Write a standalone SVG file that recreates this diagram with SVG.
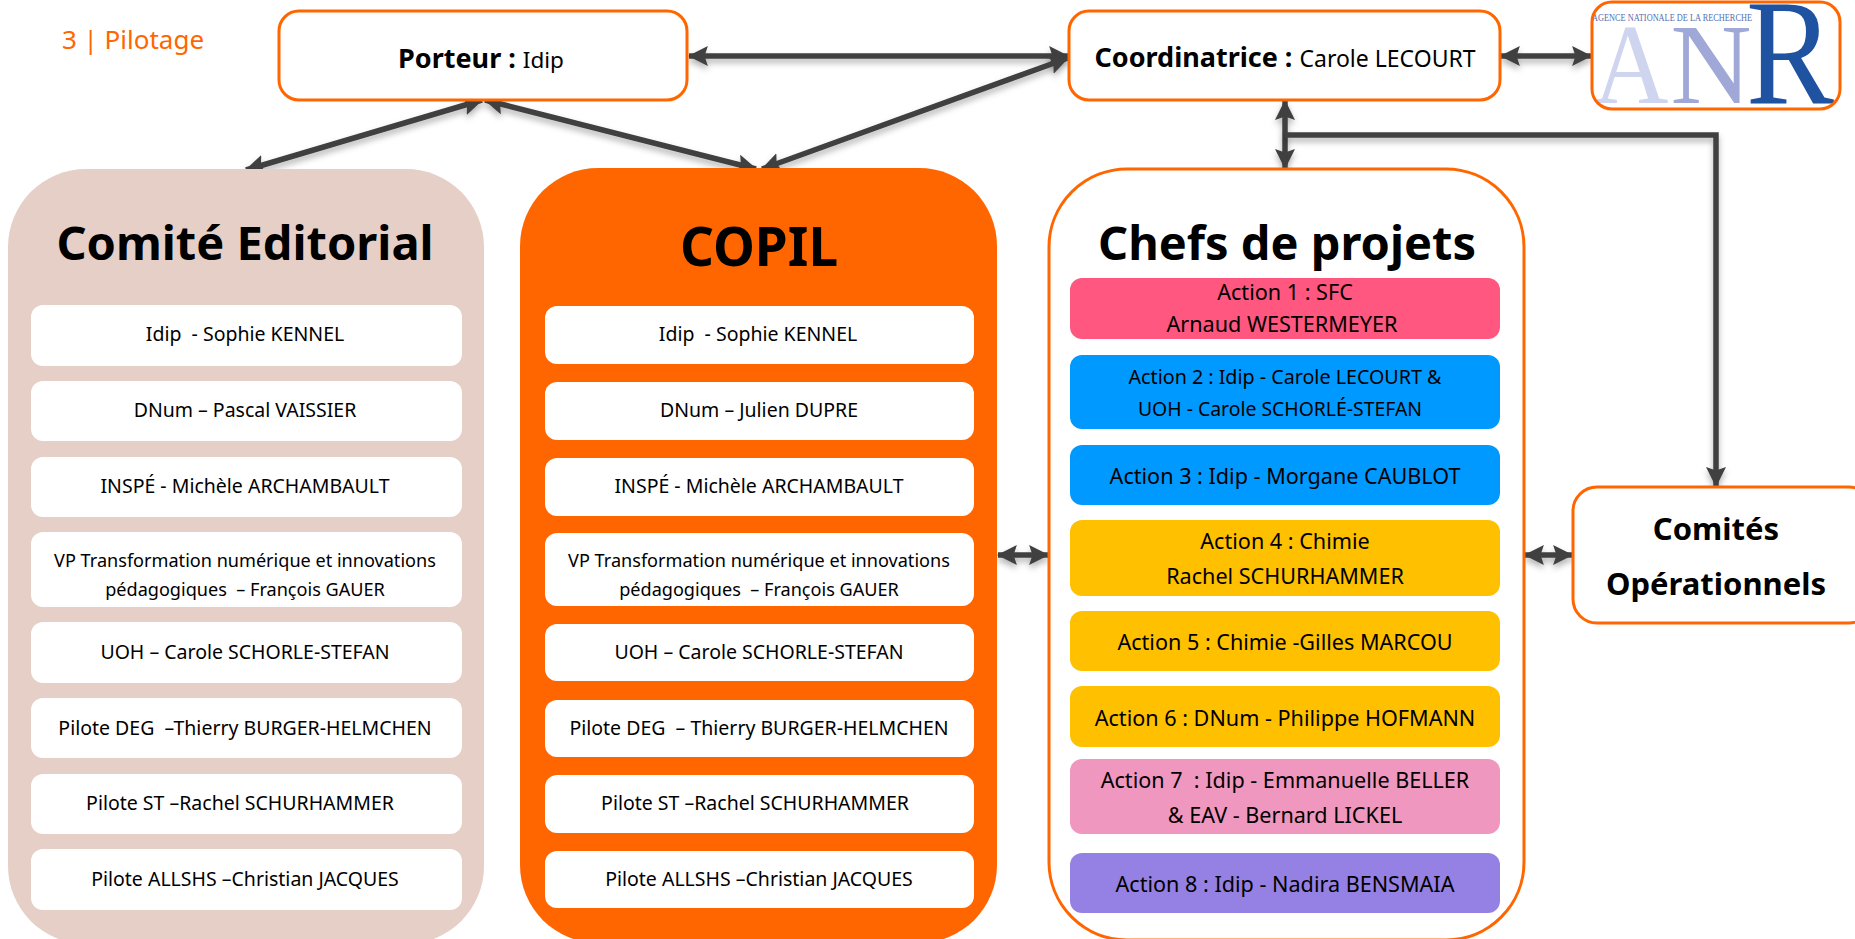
<svg xmlns="http://www.w3.org/2000/svg" width="1855" height="939" viewBox="0 0 1855 939">
<style>
text{font-family:"Noto Sans","Open Sans","Liberation Sans",sans-serif;text-anchor:middle;fill:#000;white-space:pre}
.o{fill:#fff;stroke:#ff6600;stroke-width:3}
.w{fill:#fff}
.c{fill:none;stroke:#404040;stroke-width:5.5;marker-start:url(#a);marker-end:url(#a);filter:url(#s)}
.c2{fill:none;stroke:#404040;stroke-width:5.5;marker-end:url(#a);filter:url(#s)}
.h{font-size:47px;font-weight:700}
.r{font-size:19.5px}
.v{font-size:18.1px}
.a{font-size:21.6px}
.b{font-size:27px;font-weight:700}
.n{font-weight:400;font-size:23px}
.f{font-family:"Liberation Serif",serif}
.co{font-size:31px;font-weight:700}
</style>
<defs>
<marker id="a" viewBox="0 0 18 18" refX="17" refY="9" markerUnits="userSpaceOnUse" markerWidth="20" markerHeight="20" orient="auto-start-reverse"><path d="M0 0L18 9L0 18L3 9Z" fill="#404040"/></marker>
<filter id="s" x="0" y="0" width="1855" height="939" filterUnits="userSpaceOnUse"><feDropShadow dx="0" dy="4" stdDeviation="3" flood-color="#000" flood-opacity=".3"/></filter>
<clipPath id="anrclip"><rect x="1592" y="2" width="248" height="107" rx="20"/></clipPath>
</defs>
<text id="title" x="133" y="49" style="font-size:26px;fill:#ff6600">3 | Pilotage</text>
<g id="connectors">
<path class="c" d="M689 56H1068"/>
<path class="c" d="M1068 58L762 169"/>
<path class="c" d="M485 100L756 169"/>
<path class="c" d="M482 100L246 170"/>
<path class="c" d="M1501 56H1591"/>
<path class="c" d="M1285 101V168"/>
<path class="c2" d="M1285 135H1716V486"/>
<path class="c" d="M998 555H1048"/>
<path class="c" d="M1525 555H1572"/>
</g>
<g id="porteur"><rect class="o" x="279" y="11" width="408" height="89" rx="20"/><text class="b" x="481" y="68">Porteur : <tspan class="n" style="font-size:22.5px">Idip</tspan></text></g>
<g id="coordinatrice"><rect class="o" x="1069" y="11" width="431" height="89" rx="20"/><text class="b" x="1285" y="67">Coordinatrice : <tspan class="n">Carole LECOURT</tspan></text></g>
<g id="anr"><rect x="1592" y="2" width="248" height="107" rx="20" fill="#fff"/>
<g clip-path="url(#anrclip)"><text class="f" x="1631" y="103" textLength="75" lengthAdjust="spacingAndGlyphs" style="font-size:115px;fill:#cfd5ee">A</text><text class="f" x="1711" y="103" textLength="81" lengthAdjust="spacingAndGlyphs" style="font-size:115px;fill:#9fa8d6">N</text><text class="f" x="1790" y="103" textLength="88" lengthAdjust="spacingAndGlyphs" style="font-size:150px;fill:#1f52a0">R</text>
<text class="f" x="1672" y="21" textLength="160" lengthAdjust="spacingAndGlyphs" style="font-size:10px;fill:#5a6fb0">AGENCE NATIONALE DE LA RECHERCHE</text></g>
<rect x="1592" y="2" width="248" height="107" rx="20" fill="none" stroke="#ff6600" stroke-width="3"/></g>
<g id="comite-editorial">
<rect x="8" y="169" width="476" height="775" rx="78" fill="#e5cfc7"/>
<text class="h" x="245" y="260">Comité Editorial</text>
<rect class="w" x="31" y="305" width="431" height="61" rx="12"/><text class="r" x="245" y="341">Idip  - Sophie KENNEL</text>
<rect class="w" x="31" y="381" width="431" height="60" rx="12"/><text class="r" x="245" y="417">DNum – Pascal VAISSIER</text>
<rect class="w" x="31" y="457" width="431" height="60" rx="12"/><text class="r" x="245" y="493">INSPÉ - Michèle ARCHAMBAULT</text>
<rect class="w" x="31" y="532" width="431" height="75" rx="12"/><text class="v" x="245" y="567">VP Transformation numérique et innovations</text><text class="v" x="245" y="596">pédagogiques  – François GAUER</text>
<rect class="w" x="31" y="622" width="431" height="61" rx="12"/><text class="r" x="245" y="659">UOH – Carole SCHORLE-STEFAN</text>
<rect class="w" x="31" y="698" width="431" height="60" rx="12"/><text class="r" x="245" y="735">Pilote DEG  –Thierry BURGER-HELMCHEN</text>
<rect class="w" x="31" y="774" width="431" height="60" rx="12"/><text class="r" x="240" y="810">Pilote ST –Rachel SCHURHAMMER</text>
<rect class="w" x="31" y="849" width="431" height="61" rx="12"/><text class="r" x="245" y="886">Pilote ALLSHS –Christian JACQUES</text>
</g>
<g id="copil">
<rect x="520" y="168" width="477" height="775" rx="78" fill="#ff6600"/>
<text class="h" x="759" y="266" style="font-size:53px">COPIL</text>
<rect class="w" x="545" y="306" width="429" height="58" rx="12"/><text class="r" x="758" y="341">Idip  - Sophie KENNEL</text>
<rect class="w" x="545" y="382" width="429" height="58" rx="12"/><text class="r" x="759" y="417">DNum – Julien DUPRE</text>
<rect class="w" x="545" y="458" width="429" height="58" rx="12"/><text class="r" x="759" y="493">INSPÉ - Michèle ARCHAMBAULT</text>
<rect class="w" x="545" y="533" width="429" height="73" rx="12"/><text class="v" x="759" y="567">VP Transformation numérique et innovations</text><text class="v" x="759" y="596">pédagogiques  – François GAUER</text>
<rect class="w" x="545" y="624" width="429" height="57" rx="12"/><text class="r" x="759" y="659">UOH – Carole SCHORLE-STEFAN</text>
<rect class="w" x="545" y="700" width="429" height="57" rx="12"/><text class="r" x="759" y="735">Pilote DEG  – Thierry BURGER-HELMCHEN</text>
<rect class="w" x="545" y="775" width="429" height="58" rx="12"/><text class="r" x="755" y="810">Pilote ST –Rachel SCHURHAMMER</text>
<rect class="w" x="545" y="851" width="429" height="57" rx="12"/><text class="r" x="759" y="886">Pilote ALLSHS –Christian JACQUES</text>
</g>
<g id="chefs-de-projets">
<rect class="o" x="1049" y="169" width="475" height="771" rx="78"/>
<text class="h" x="1287" y="260">Chefs de projets</text>
<rect x="1070" y="278" width="430" height="61" rx="12" fill="#ff577f"/><text class="a" x="1285" y="300">Action 1 : SFC</text><text class="a" x="1282" y="332">Arnaud WESTERMEYER</text>
<rect x="1070" y="355" width="430" height="74" rx="12" fill="#0099ff"/><text class="a" x="1285" y="384" style="font-size:19.7px">Action 2 : Idip - Carole LECOURT &amp;</text><text class="a" x="1280" y="416" style="font-size:19.4px">UOH - Carole SCHORLÉ-STEFAN</text>
<rect x="1070" y="445" width="430" height="60" rx="12" fill="#0099ff"/><text class="a" x="1285" y="484">Action 3 : Idip - Morgane CAUBLOT</text>
<rect x="1070" y="520" width="430" height="76" rx="12" fill="#ffc000"/><text class="a" x="1285" y="549">Action 4 : Chimie</text><text class="a" x="1285" y="584">Rachel SCHURHAMMER</text>
<rect x="1070" y="611" width="430" height="60" rx="12" fill="#ffc000"/><text class="a" x="1285" y="650">Action 5 : Chimie -Gilles MARCOU</text>
<rect x="1070" y="686" width="430" height="61" rx="12" fill="#ffc000"/><text class="a" x="1285" y="726">Action 6 : DNum - Philippe HOFMANN</text>
<rect x="1070" y="759" width="430" height="75" rx="12" fill="#f097bf"/><text class="a" x="1285" y="788">Action 7  : Idip - Emmanuelle BELLER</text><text class="a" x="1285" y="823">&amp; EAV - Bernard LICKEL</text>
<rect x="1070" y="853" width="430" height="60" rx="12" fill="#9580e3"/><text class="a" x="1285" y="892">Action 8 : Idip - Nadira BENSMAIA</text>
</g>
<g id="comites-operationnels"><rect class="o" x="1573" y="487" width="300" height="136" rx="24"/><text class="co" x="1716" y="540">Comités</text><text class="co" x="1716" y="595">Opérationnels</text></g>
</svg>
